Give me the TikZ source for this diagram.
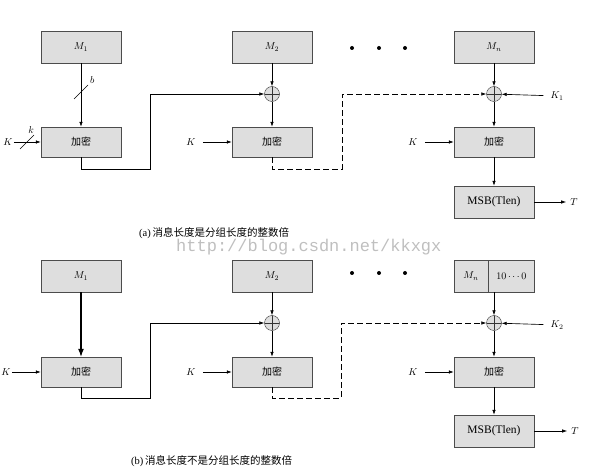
\documentclass[tikz,border=0pt]{standalone}
\usepackage{fontspec}
\setmainfont{Liberation Serif}
\newfontfamily\cjk{Noto Sans CJK SC}
\newfontfamily\wmfont{Liberation Mono}
\usetikzlibrary{arrows.meta,positioning}

\begin{document}
\begin{tikzpicture}[x=1pt, y=-1pt,
  box/.style  = {draw=black!70, fill=black!13, minimum width=80pt,
                 minimum height=32pt, inner sep=0pt},
  enc/.style  = {box, minimum height=30pt, font=\cjk},
  xor/.style  = {circle, draw=black!80, fill=black!13, minimum size=15pt,
                 inner sep=0pt,
                 path picture={\draw[black!80]
                   (path picture bounding box.north) -- (path picture bounding box.south)
                   (path picture bounding box.west) -- (path picture bounding box.east);}},
  arr/.style  = {-{Latex[length=5pt,width=3.5pt]}, line width=0.65pt},
  thick arr/.style = {-{Latex[length=8pt,width=6pt]}, line width=1.1pt},
  chain/.style = {arr, dash pattern=on 6pt off 3pt},
  lab/.style  = {inner sep=1pt},
  msb/.style  = {box, font=\fontsize{11.5}{12}\selectfont},
  caption/.style = {font=\fontsize{10.5}{12}\selectfont, anchor=west, inner sep=0pt},
  dot/.style  = {circle, fill, inner sep=0pt, minimum size=4pt}
]
\useasboundingbox (0,0) rectangle (598,476);

%% ---- (a) message length is a multiple of block length -------------
\node[box] (aM1) at (81,47)  {$M_1$};
\node[box] (aM2) at (272,47) {$M_2$};
\node[box] (aMn) at (494,47) {$M_n$};
\node[dot] (ad1) at (352,48) {};
\node[dot] (ad2) at (379,48) {};
\node[dot] (ad3) at (405,48) {};

\node[enc] (aE1) at (81,142)  {加密};
\node[enc] (aE2) at (272,142) {加密};
\node[enc] (aEn) at (494,142) {加密};
\node[xor] (aX2) at (272,94) {};
\node[xor] (aXn) at (494,94) {};
\node[msb] (aT) at (494,202) {MSB(Tlen)};

\node[lab] (aK1) at (8,142)   {$K$};
\node[lab] (aK2) at (191,142) {$K$};
\node[lab] (aKn) at (413,142) {$K$};
\node[lab] (aKa) at (557,96)  {$K_1$};
\node[lab] (aTo) at (574,202) {$T$};
\coordinate (aJ1) at (150,169);
\coordinate (aJ2) at (342,169);

\draw[arr] (aM1) -- (aE1);
\draw (74,99) -- (88,85) node[lab, above right, xshift=1pt] {$b$};
\draw[arr] (aK1) -- (aE1);
\draw (20,149) -- (34,135) node[lab, above left, xshift=1pt] {$k$};
\draw[arr] (aE1.south) |- (aJ1) |- (aX2.west);
\draw[arr] (aM2) -- (aX2);
\draw[arr] (aX2) -- (aE2);
\draw[arr, shorten <=6pt] (aK2) -- (aE2);
\draw[chain] (aE2.south) |- (aJ2) |- (aXn.west);
\draw[arr] (aMn) -- (aXn);
\draw[arr, shorten <=6pt] (aKa) -- (aXn);
\draw[arr] (aXn) -- (aEn);
\draw[arr, shorten <=6pt] (aKn) -- (aEn);
\draw[arr] (aEn) -- (aT);
\draw[arr, shorten >=3pt] (aT) -- (aTo);

\node[caption] (acap) at (139,233) {(a)\,{\cjk 消息长度是分组长度的整数倍}};
\node[anchor=west, inner sep=0pt, text=black!25, font=\wmfont\fontsize{17}{17}\selectfont]
  (wm) at (176,247) {http://blog.csdn.net/kkxgx};

%% ---- (b) message length is not a multiple of block length ---------
\node[box] (bM1) at (81,276)  {$M_1$};
\node[box] (bM2) at (272,276) {$M_2$};
\node[box, minimum width=34pt] (bMn) at (471,276) {$M_n$};
\node[box, minimum width=46pt, right=0pt of bMn] (bpad) {$10\cdots0$};
\node[dot] (bd1) at (352,273) {};
\node[dot] (bd2) at (379,273) {};
\node[dot] (bd3) at (405,273) {};

\node[enc] (bE1) at (81,372)  {加密};
\node[enc] (bE2) at (272,372) {加密};
\node[enc] (bEn) at (494,372) {加密};
\node[xor] (bX2) at (272,323) {};
\node[xor] (bXn) at (494,323) {};
\node[msb] (bT) at (494,431) {MSB(Tlen)};

\node[lab] (bK1) at (6,372)   {$K$};
\node[lab] (bK2) at (191,372) {$K$};
\node[lab] (bKn) at (413,372) {$K$};
\node[lab] (bKb) at (557,325) {$K_2$};
\node[lab] (bTo) at (575,431) {$T$};
\coordinate (bJ1) at (150,398);
\coordinate (bJ2) at (341,398);

\draw[thick arr] (bM1) -- (bE1);
\draw[arr] (bK1) -- (bE1);
\draw[arr] (bE1.south) |- (bJ1) |- (bX2.west);
\draw[arr] (bM2) -- (bX2);
\draw[arr] (bX2) -- (bE2);
\draw[arr, shorten <=6pt] (bK2) -- (bE2);
\draw[chain] (bE2.south) |- (bJ2) |- (bXn.west);
\draw[arr] (bXn |- bMn.south) -- (bXn);
\draw[arr, shorten <=6pt] (bKb) -- (bXn);
\draw[arr] (bXn) -- (bEn);
\draw[arr, shorten <=6pt] (bKn) -- (bEn);
\draw[arr] (bEn) -- (bT);
\draw[arr, shorten >=3pt] (bT) -- (bTo);

\node[caption] (bcap) at (131,461) {(b)\,{\cjk 消息长度不是分组长度的整数倍}};
\end{tikzpicture}
\end{document}
